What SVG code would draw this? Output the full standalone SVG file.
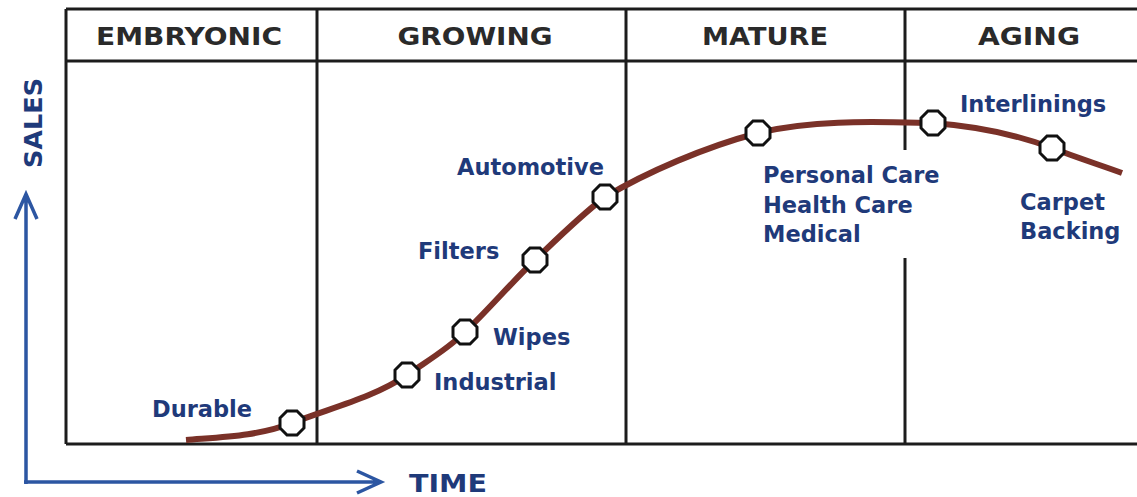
<svg xmlns="http://www.w3.org/2000/svg" xmlns:xlink="http://www.w3.org/1999/xlink" width="1137" height="497" viewBox="0 0 1137 497">
  <style>
    .grid { stroke: #1c1c1c; stroke-width: 3; fill: none; }
    .head { font-family: "DejaVu Sans", Verdana, sans-serif; font-weight: bold; font-size: 25px; fill: #2a2a2a; text-anchor: middle; }
    .lbl { font-family: "DejaVu Sans", Verdana, sans-serif; font-weight: bold; font-size: 22.5px; fill: #1f3a7a; }
    .axis { stroke: #2c56a2; stroke-width: 3.5; fill: none; }
    .axislbl { font-family: "DejaVu Sans", Verdana, sans-serif; font-weight: bold; font-size: 24px; fill: #1f3a7a; }
    .curve { stroke: #7a3128; stroke-width: 6; fill: none; stroke-linecap: butt; }
    .mark { fill: #ffffff; stroke: #111111; stroke-width: 3; }
  </style>
  <defs>
    <polygon id="oct" points="5,-12 12,-5 12,5 5,12 -5,12 -12,5 -12,-5 -5,-12"/>
  </defs>

  <rect width="1137" height="497" fill="#ffffff"/>

  <!-- stage table -->
  <g id="table">
    <path class="grid" d="M66,9 H1137 M66,61 H1137 M66,444 H1137 M66,9 V444 M317,9 V444 M626,9 V444 M905,9 V150 M905,258 V444"/>
    <text class="head" x="189" y="45" textLength="186" lengthAdjust="spacingAndGlyphs">EMBRYONIC</text>
    <text class="head" x="475" y="45" textLength="155" lengthAdjust="spacingAndGlyphs">GROWING</text>
    <text class="head" x="765" y="45" textLength="126" lengthAdjust="spacingAndGlyphs">MATURE</text>
    <text class="head" x="1029" y="45" textLength="102" lengthAdjust="spacingAndGlyphs">AGING</text>
  </g>

  <!-- axes -->
  <g id="axes">
    <path class="axis" d="M26,484 V194 M15,219 L26,194 L37,219"/>
    <path class="axis" d="M24,482 H381 M357,471 L381,482 L357,493"/>
    <text class="axislbl" transform="translate(42,168) rotate(-90)" textLength="90" lengthAdjust="spacingAndGlyphs">SALES</text>
    <text class="axislbl" x="409" y="492" font-size="23" textLength="78" lengthAdjust="spacingAndGlyphs">TIME</text>
  </g>

  <!-- life-cycle curve -->
  <g id="connectors">
    <path class="curve" d="M186,440 C222,437 259,436 292,423 C330,408 373,398 407,375 C427,361 448,349 465,332 C489,309 511,283 535,260 C557,239 580,216 605,197 C647,172 705,147 758,133 C814,119 880,122 933,123 C973,126 1015,134 1052,148 C1075,157 1103,166 1122,173"/>
  </g>

  <!-- product markers -->
  <g id="node-durable">
    <use xlink:href="#oct" class="mark" x="292" y="423"/>
    <text class="lbl" x="152" y="417">Durable</text>
  </g>
  <g id="node-industrial">
    <use xlink:href="#oct" class="mark" x="407" y="375"/>
    <text class="lbl" x="434" y="390">Industrial</text>
  </g>
  <g id="node-wipes">
    <use xlink:href="#oct" class="mark" x="465" y="332"/>
    <text class="lbl" x="493" y="345">Wipes</text>
  </g>
  <g id="node-filters">
    <use xlink:href="#oct" class="mark" x="535" y="260"/>
    <text class="lbl" x="418" y="259">Filters</text>
  </g>
  <g id="node-automotive">
    <use xlink:href="#oct" class="mark" x="605" y="197"/>
    <text class="lbl" x="457" y="175">Automotive</text>
  </g>
  <g id="node-care">
    <use xlink:href="#oct" class="mark" x="758" y="133"/>
    <text class="lbl" x="763" y="183">Personal Care</text>
    <text class="lbl" x="763" y="213">Health Care</text>
    <text class="lbl" x="763" y="242">Medical</text>
  </g>
  <g id="node-interlinings">
    <use xlink:href="#oct" class="mark" x="933" y="123"/>
    <text class="lbl" x="960" y="112">Interlinings</text>
  </g>
  <g id="node-carpet">
    <use xlink:href="#oct" class="mark" x="1052" y="148"/>
    <text class="lbl" x="1020" y="210">Carpet</text>
    <text class="lbl" x="1020" y="239">Backing</text>
  </g>
</svg>
